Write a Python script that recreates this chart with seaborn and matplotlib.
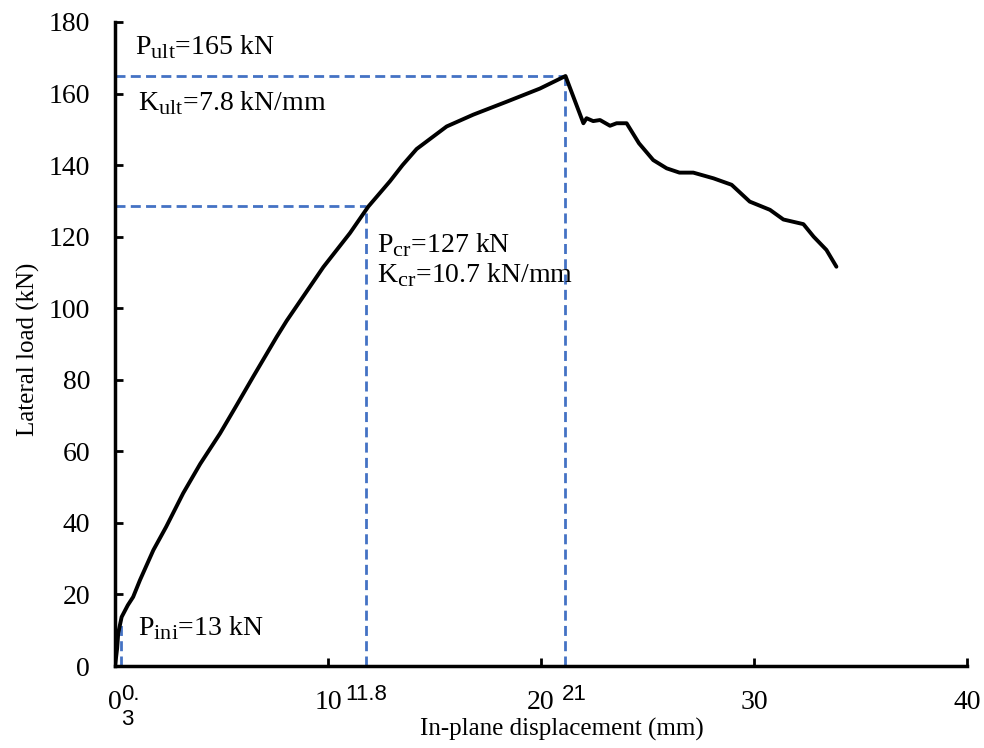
import matplotlib
matplotlib.use("Agg")
import matplotlib.pyplot as plt
import seaborn as sns
import pandas as pd
try:
    import matplotlib._mathtext as _mt
    _mt.SHRINK_FACTOR = 0.8
except Exception:
    pass

# ---- data ----
disp = [0, 0.1, 0.15, 0.31, 0.6, 0.85, 1.17, 1.8, 2.4, 3.2, 4.0, 4.93, 5.7, 6.49,
        7.59, 8.06, 8.69, 9.78, 11.03, 11.89, 12.91, 13.5, 14.16, 15.57, 16.82, 18.38,
        19.95, 21.15,
        21.99, 22.14, 22.45, 22.77, 23.24, 23.55, 24.02, 24.6, 25.27, 25.9, 26.5,
        27.15, 28.1, 28.95, 29.8, 30.75, 31.38, 32.32, 32.8, 33.4, 33.87]
load = [0, 5, 9.2, 13.7, 17, 19.3, 24.0, 32.4, 38.9, 48.3, 56.5, 65.0, 72.8, 80.9,
        92.0, 96.5, 102.0, 111.5, 121.0, 128.4, 135.5, 140.0, 144.5, 150.8, 154.1, 157.7,
        161.4, 164.9,
        151.7, 153.1, 152.3, 152.6, 151.0, 151.7, 151.7, 146.1, 141.4, 139.1, 137.9,
        137.9, 136.3, 134.5, 129.8, 127.5, 124.8, 123.5, 120.0, 116.3, 111.6]

x_ini, p_ini = 0.3, 13
x_cr, p_cr = 11.8, 128.6
x_ult, p_ult = 21.15, 164.9

xticks = [0, 10, 20, 30, 40]
yticks = [0, 20, 40, 60, 80, 100, 120, 140, 160, 180]
extra_ticks = [0.3, 11.8, 21]
extra_labels = ["0.\n3", "11.8", "21"]

sns.set_style("white", {"text.color": "black", "axes.labelcolor": "black",
                        "xtick.color": "black", "ytick.color": "black",
                        "axes.edgecolor": "black"})
plt.rcParams['font.family'] = ['Liberation Serif', 'DejaVu Serif']
plt.rcParams['mathtext.fontset'] = 'custom'
plt.rcParams['mathtext.rm'] = 'Liberation Serif'

fig = plt.figure(figsize=(9.84, 7.48), dpi=100)
ax = fig.add_axes([0.1169, 0.1096, 0.8658, 0.861])

dash_c = '#4472C4'
kw = dict(color=dash_c, lw=2.0, ls=(0, (3.6, 1.9)), zorder=2, clip_on=False)
ax.plot([x_ini, x_ini], [0, p_ini], **kw)
ax.plot([0, x_cr], [p_cr, p_cr], **kw)
ax.plot([x_cr, x_cr], [0, p_cr], **kw)
ax.plot([0, x_ult], [p_ult, p_ult], **kw)
ax.plot([x_ult, x_ult], [0, p_ult], **kw)

df = pd.DataFrame({"disp": disp, "load": load})
sns.lineplot(data=df, x="disp", y="load", sort=False, estimator=None,
             color='black', lw=2.8, ax=ax, zorder=3)

ax.set_xlim(0, 40)
ax.set_ylim(0, 180)
ax.set_xticks(xticks)
ax.set_yticks(yticks)
ax.set_xticks(extra_ticks, minor=True)
ax.set_xticklabels(extra_labels, minor=True)
for lbl in ax.get_xticklabels(minor=True):
    lbl.set_fontfamily(['Liberation Sans', 'DejaVu Sans'])
    lbl.set_fontsize(16)
    lbl.set_verticalalignment('top')
    lbl.set_horizontalalignment('left')
    lbl.set_linespacing(1.25)
ax.get_xticklabels(minor=True)[1].set_horizontalalignment('center')
ax.tick_params(axis='x', which='minor', length=0, pad=13, bottom=True)
ax.tick_params(axis='both', which='major', direction='in', length=6, width=2,
               labelsize=20, bottom=True, left=True)
ax.tick_params(axis='x', which='major', pad=17)
ax.tick_params(axis='y', which='major', pad=18)

for s in ['top', 'right']:
    ax.spines[s].set_visible(False)
for s in ['left', 'bottom']:
    ax.spines[s].set_linewidth(2.5)
    ax.spines[s].set_color('black')

ax.set_xlabel("In-plane displacement (mm)", fontsize=18)
ax.set_ylabel("Lateral load (kN)", fontsize=18)
ax.xaxis.set_label_coords(0.525, -0.08)
ax.yaxis.set_label_coords(-0.088, 0.492)

tfs = 20
ax.text(0.94, 171.0, r"P$_{\mathregular{ult}}$=165 kN", fontsize=tfs, va='baseline')
ax.text(1.08, 155.4, r"K$_{\mathregular{ult}}$=7.8 kN/mm", fontsize=tfs, va='baseline')
ax.text(12.28, 115.7, r"P$_{\mathregular{cr}}$=127 kN", fontsize=tfs, va='baseline')
ax.text(12.28, 107.3, r"K$_{\mathregular{cr}}$=10.7 kN/mm", fontsize=tfs, va='baseline')
ax.text(1.08, 8.7, r"P$_{\mathregular{ini}}$=13 kN", fontsize=tfs, va='baseline')

fig.savefig("out.png", dpi=100)
